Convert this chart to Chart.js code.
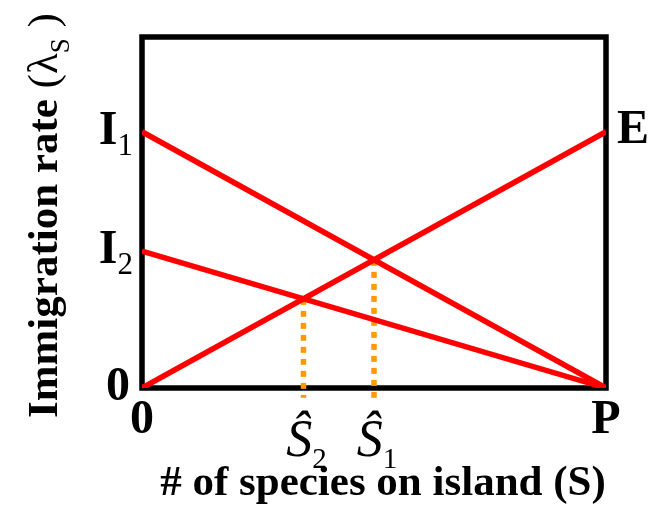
<!DOCTYPE html>
<html lang="en">
<head>
<meta charset="UTF-8">
<title>Immigration rate vs species</title>
<script src="https://cdn.jsdelivr.net/npm/chart.js"></script>
<style>
  body { margin: 0; background: #fff; }
  #wrap { width: 660px; height: 512px; }
</style>
</head>
<body>
<div id="wrap"><canvas id="chart" width="660" height="512"></canvas></div>
<script>
// species axis runs from 0 to P (=1), rate axis from 0 to 1
const lineX = [0, 1];
const i1Rate = [0.73, 0];      // I1 -> P
const i2Rate = [0.39, 0];      // I2 -> P
const extRate = [0, 0.73];     // 0 -> E
const sHatX = [0.5, 0.348];    // S^1, S^2
const sHatY = [0.365, 0.254];
const dropTo = -0.028;         // dotted lines run a bit past the axis

const yTicks = [
  { v: 0.73, main: 'I', sub: '1' },
  { v: 0.39, main: 'I', sub: '2' },
  { v: 0, main: '0', sub: '' }
];
const xTicks = [
  { v: 0, main: '0', sub: '' },
  { v: sHatX[1], main: 'Ŝ', sub: '2' },
  { v: sHatX[0], main: 'Ŝ', sub: '1' },
  { v: 1, main: 'P', sub: '' }
];

const RED = '#ff0000';
const ORANGE = '#ff9a00';
const SERIF = '"Liberation Serif", "Times New Roman", serif';

function pts(xs, ys) {
  return xs.map((x, i) => ({ x: x, y: ys[i] }));
}

const frame = {
  id: 'frame',
  beforeDatasetsDraw(chart) {
    const { ctx, chartArea: a } = chart;
    ctx.save();
    ctx.strokeStyle = '#000';
    ctx.lineWidth = 5.5;
    ctx.strokeRect(a.left, a.top, a.right - a.left, a.bottom - a.top);
    ctx.restore();
  }
};

const labels = {
  id: 'labels',
  afterDraw(chart) {
    const ctx = chart.ctx;
    const xs = chart.scales.x, ys = chart.scales.y;
    ctx.save();
    ctx.fillStyle = '#000';
    ctx.textBaseline = 'alphabetic';
    ctx.textAlign = 'left';

    // y ticks, right aligned against the frame
    yTicks.forEach(t => {
      const py = ys.getPixelForValue(t.v) + 12;
      ctx.font = 'bold 48px ' + SERIF;
      const w1 = ctx.measureText(t.main).width;
      ctx.font = '31px ' + SERIF;
      const w2 = t.sub ? ctx.measureText(t.sub).width : 0;
      const right = t.sub ? 133 : 130;
      ctx.font = 'bold 48px ' + SERIF;
      ctx.fillText(t.main, right - w1 - w2, py);
      if (t.sub) {
        ctx.font = '31px ' + SERIF;
        ctx.fillText(t.sub, right - w2, py + 11);
      }
    });

    // x ticks
    xTicks.forEach(t => {
      const px = xs.getPixelForValue(t.v);
      if (!t.sub) {
        ctx.font = 'bold 48px ' + SERIF;
        const w = ctx.measureText(t.main).width;
        ctx.fillText(t.main, px - w / 2, 433);
      } else {
        ctx.font = 'italic 52px ' + SERIF;
        const w1 = ctx.measureText(t.main).width;
        ctx.font = '29px ' + SERIF;
        const w2 = ctx.measureText(t.sub).width;
        const left = px - (w1 + w2) / 2 + 3;
        ctx.font = 'italic 52px ' + SERIF;
        ctx.fillText(t.main, left, 456);
        ctx.font = '29px ' + SERIF;
        ctx.fillText(t.sub, left + w1, 468);
      }
    });

    // E at the right end of the extinction line
    ctx.font = 'bold 48px ' + SERIF;
    ctx.fillText('E', 617, ys.getPixelForValue(extRate[1]) + 11);

    // x title
    ctx.font = 'bold 43px ' + SERIF;
    ctx.textAlign = 'center';
    ctx.fillText('# of species on island (S)', 383, 495);

    // y title, rotated
    ctx.translate(57, 418);
    ctx.rotate(-Math.PI / 2);
    ctx.textAlign = 'left';
    let x = 0;
    ctx.font = 'bold 43px ' + SERIF;
    ctx.fillText('Immigration rate ', x, 0);
    x += ctx.measureText('Immigration rate ').width;
    ctx.font = '43px ' + SERIF;
    ctx.fillText('(λ', x, 0);
    x += ctx.measureText('(λ').width;
    ctx.font = '27px ' + SERIF;
    ctx.fillText('S', x, 12);
    x += ctx.measureText('S').width;
    ctx.font = '43px ' + SERIF;
    ctx.fillText(' )', x, 0);
    ctx.restore();
  }
};

new Chart(document.getElementById('chart'), {
  type: 'scatter',
  data: {
    datasets: [
      { data: pts(lineX, i1Rate), borderColor: RED, borderWidth: 5.5, showLine: true, pointRadius: 0 },
      { data: pts(lineX, i2Rate), borderColor: RED, borderWidth: 5.5, showLine: true, pointRadius: 0 },
      { data: pts(lineX, extRate), borderColor: RED, borderWidth: 5.5, showLine: true, pointRadius: 0 },
      { data: [{ x: sHatX[0], y: sHatY[0] }, { x: sHatX[0], y: dropTo }], borderColor: ORANGE,
        borderWidth: 5.5, borderDash: [6, 6], showLine: true, pointRadius: 0, clip: false },
      { data: [{ x: sHatX[1], y: sHatY[1] }, { x: sHatX[1], y: dropTo }], borderColor: ORANGE,
        borderWidth: 5.5, borderDash: [6, 6], showLine: true, pointRadius: 0, clip: false }
    ]
  },
  options: {
    responsive: false,
    animation: false,
    layout: { padding: { left: 142, right: 54, top: 37, bottom: 124 } },
    plugins: { legend: { display: false }, tooltip: { enabled: false } },
    scales: {
      x: { type: 'linear', min: 0, max: 1, display: false },
      y: { type: 'linear', min: 0, max: 1, display: false }
    }
  },
  plugins: [frame, labels]
});
</script>
</body>
</html>
